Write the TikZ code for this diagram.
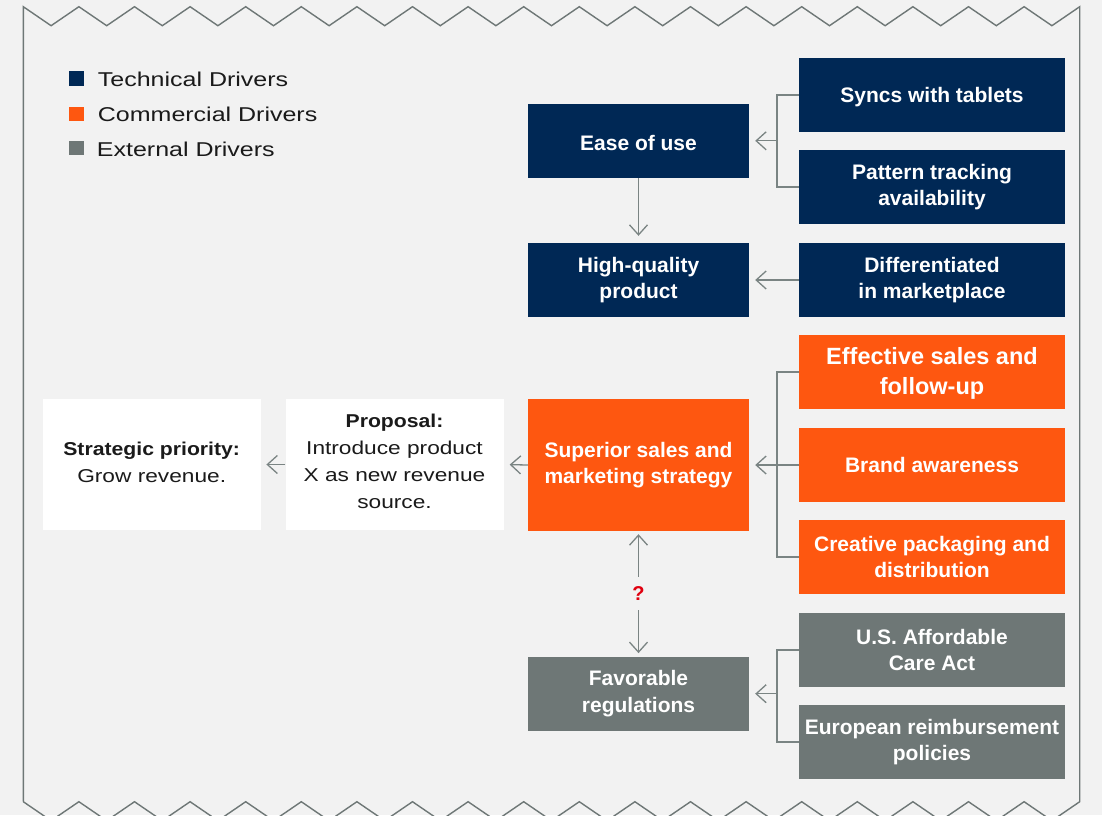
\documentclass[tikz,border=0pt]{standalone}
\usepackage{fontspec}
\setmainfont{Liberation Sans}
\newfontfamily\wideR[FakeStretch=1.22]{Liberation Sans}
\newfontfamily\wideL[FakeStretch=1.25]{Liberation Sans}
\newfontfamily\wideB[FakeStretch=1.14]{Liberation Sans}
\usetikzlibrary{arrows.meta}
\definecolor{bg}{HTML}{F2F2F2}
\definecolor{navy}{HTML}{002855}
\definecolor{orng}{HTML}{FE5710}
\definecolor{grayb}{HTML}{6E7776}
\definecolor{conncol}{HTML}{7A8483}
\definecolor{qred}{HTML}{E0000F}
\definecolor{ink}{HTML}{1A1A1A}
\tikzset{
  box/.style={minimum width=221pt, minimum height=74pt, inner sep=0pt, align=center,
    text=white, font=\fontsize{21}{26.5}\selectfont\bfseries},
  rbox/.style={box, minimum width=266pt},
  tech/.style={fill=navy}, comm/.style={fill=orng}, ext/.style={fill=grayb},
  wbox/.style={fill=white, minimum width=218pt, minimum height=131pt, inner sep=0pt,
    align=center, text=ink, font=\fontsize{18.6}{27}\wideR},
  conn/.style={draw=conncol, line width=1.3pt},
  arr/.style={conn, -{Straight Barb[length=10pt,width=18pt]}},
  border/.style={draw=grayb, line width=1.4pt, line join=miter},
  legsq/.style={minimum size=14.5pt, inner sep=0pt},
  legtxt/.style={anchor=base west, inner sep=0pt, text=ink, font=\fontsize{20}{24}\wideL},
}
\begin{document}
\begin{tikzpicture}[x=1pt,y=-1pt]
\fill[bg] (0,0) rectangle (1102,815);
\useasboundingbox (0,0) rectangle (1102,815);
\clip (0,0) rectangle (1102,815);
% zigzag frame
\draw[border] (23.3,801.7) -- (23.3,6.7)
  \foreach \i in {0,...,18} { -- ({23.3+55.6*\i+27.8},25.7) -- ({23.3+55.6*(\i+1)},6.7) }
  -- (1079.7,801.7)
  \foreach \i in {18,...,0} { -- ({23.3+55.6*\i+27.8},820.7) -- ({23.3+55.6*\i},801.7) };
% legend
\node[legsq, fill=navy] (lt) at (76.5,78.7) {};
\node[legsq, fill=orng] (lc) at (76.5,114) {};
\node[legsq, fill=grayb] (le) at (76.5,148.2) {};
\node[legtxt] (ltt) at (97.7,86) {Technical Drivers};
\node[legtxt] (lct) at (97.7,121) {Commercial Drivers};
\node[legtxt] (let) at (96.7,156) {External Drivers};
% center column
\node[box, tech] (ease) at (638.5,140.8) {\rule{0pt}{20pt}Ease of use};
\node[box, tech] (hq) at (638.5,280) {High-quality\\product};
\node[box, comm, minimum height=132pt] (sup) at (638.5,465) {Superior sales and\\marketing strategy};
\node[box, ext] (fav) at (638.5,693.7) {Favorable\\regulations};
% right column
\node[rbox, tech] (syncs) at (932,95) {\rule{0pt}{19pt}Syncs with tablets};
\node[rbox, tech] (pat) at (932,187) {Pattern tracking\\availability};
\node[rbox, tech] (diff) at (932,280) {Differentiated\\in marketplace};
\node[rbox, comm, font=\fontsize{23.5}{30}\selectfont\bfseries] (eff) at (932,372) {\rule{0pt}{20pt}Effective sales and\\follow-up};
\node[rbox, comm] (brand) at (932,465) {Brand awareness};
\node[rbox, comm] (crea) at (932,557) {Creative packaging and\\distribution};
\node[rbox, ext] (aca) at (932,650) {U.S. Affordable\\Care Act};
\node[rbox, ext] (euro) at (932,742) {European reimbursement\\policies};
% left boxes
\node[wbox] (prop) at (394.5,464.5) {{\wideB\bfseries Proposal:}\\Introduce product\\X as new revenue\\source.\rule[-6pt]{0pt}{6pt}};
\node[wbox] (strat) at (151.7,464.5) {{\wideB\bfseries Strategic priority:}\\Grow revenue.\rule[-4pt]{0pt}{4pt}};
% question mark
\node[inner sep=0pt, minimum height=33pt, text=qred, font=\fontsize{20}{24}\selectfont\bfseries] (q) at (638.5,593.5) {?};
% bracket joints
\coordinate (b1) at (777,140.8);
\coordinate (b2) at (777,465);
\coordinate (b3) at (777,693.7);
% connectors
\draw[conn] (syncs.west) -| (b1) |- (pat.west);
\draw[arr, shorten >=6pt] (b1) -- (ease.east);
\draw[arr, shorten >=7pt] (ease.south) -- (hq.north);
\draw[arr, shorten >=6pt] (diff.west) -- (hq.east);
\draw[conn] (eff.west) -| (b2) |- (crea.west);
\draw[arr, shorten >=6pt] (brand.west) -- (sup.east);
\draw[conn] (aca.west) -| (b3) |- (euro.west);
\draw[arr, shorten >=6pt] (b3) -- (fav.east);
\draw[arr, shorten >=6pt] (sup.west) -- (prop.east);
\draw[arr, shorten >=5.5pt] (prop.west) -- (strat.east);
\draw[arr, shorten >=3pt] (q.north) -- (sup.south);
\draw[arr, shorten >=3.4pt] (q.south) -- (fav.north);
\end{tikzpicture}
\end{document}
